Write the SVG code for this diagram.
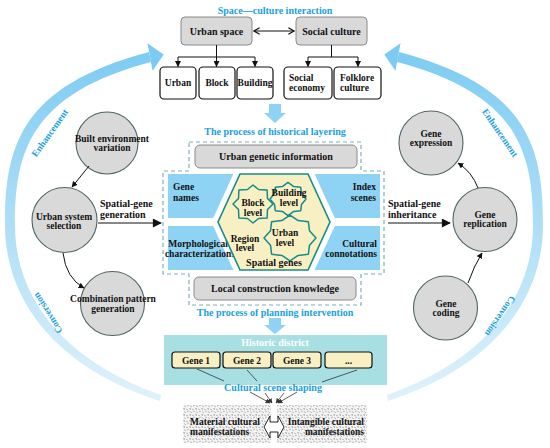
<svg xmlns="http://www.w3.org/2000/svg" width="550" height="448" viewBox="0 0 550 448">
<style>
.t{font-family:'Liberation Serif','Times New Roman',serif;font-weight:bold;font-size:10px;fill:#111}
.s{font-size:9.5px}
.bl{fill:#1aa0e0}
.m{text-anchor:middle}
.e{text-anchor:end}
.circ{fill:#d9d9d9;stroke:#4f6666;stroke-width:1.1}
.wbox{fill:#fff;stroke:#111;stroke-width:1.2}
.gbox{fill:#d9d9d9;stroke:#8a8a8a;stroke-width:1}
.panel{fill:#8fd3f4}
.gene{fill:#f8f0c2;stroke:#111;stroke-width:1.2}
.blob{fill:#f8f0c2;stroke:#158c8c;stroke-width:1.5;stroke-linejoin:round}
.ln{fill:none;stroke:#111;stroke-width:1}
.thin{fill:none;stroke:#333;stroke-width:0.8}
.arc{font-size:9.5px}
</style>
<defs>
<linearGradient id="arcg" gradientUnits="userSpaceOnUse" x1="0" y1="45" x2="0" y2="400">
<stop offset="0" stop-color="#7ccbf2"/><stop offset="1" stop-color="#dff2fb"/>
</linearGradient>
<pattern id="tex" width="6" height="6" patternUnits="userSpaceOnUse">
<rect width="6" height="6" fill="#f4f4f4"/>
<path d="M0,1 l2,1 M3.5,0 l1,2 M1,4 l2,-1 M4,3.5 l2,1.5 M5,0.5 l-1,0.5" stroke="#8c8c8c" stroke-width="0.6" fill="none"/>
</pattern>
<marker id="ah" viewBox="0 0 10 10" refX="9" refY="5" markerWidth="6" markerHeight="6" orient="auto" markerUnits="userSpaceOnUse"><path d="M0,0 L10,5 L0,10 z" fill="#111"/></marker>
<marker id="ahs" viewBox="0 0 10 10" refX="9" refY="5" markerWidth="5" markerHeight="5" orient="auto" markerUnits="userSpaceOnUse"><path d="M0,0 L10,5 L0,10 z" fill="#333"/></marker>
<marker id="ahb" viewBox="0 0 10 10" refX="9" refY="5" markerWidth="10" markerHeight="9" orient="auto" markerUnits="userSpaceOnUse"><path d="M0,0 L10,5 L0,10 z" fill="#111"/></marker>
<marker id="chev" viewBox="0 0 10 10" refX="8" refY="5" markerWidth="8" markerHeight="8" orient="auto-start-reverse" markerUnits="userSpaceOnUse"><path d="M1,1 L8,5 L1,9" fill="none" stroke="#111" stroke-width="1.6"/></marker>
</defs>
<rect width="550" height="448" fill="#fff"/>

<!-- big arcs -->
<g id="arcs">
<path d="M160,401 C57,368 5,301 5,225 C5,147 20,86 149,52 L151,62 C30,94 15,152 15,225 C15,298 64,361 161,395 Z" fill="url(#arcg)"/>
<polygon points="163.7,54.4 152.6,70.7 147.4,43.3" fill="#7ccbf2"/>
<path d="M388,401 C491,368 543,301 543,225 C543,147 528,86 399,52 L397,62 C518,94 533,152 533,225 C533,298 484,361 387,395 Z" fill="url(#arcg)"/>
<polygon points="384.3,54.4 395.4,70.7 400.6,43.3" fill="#7ccbf2"/>
<text class="t bl m arc" transform="translate(50,133) rotate(-54.5)" dy="3">Enhancement</text>
<text class="t bl m arc" transform="translate(500,133) rotate(55.8)" dy="3">Enhancement</text>
<text class="t bl m arc" transform="translate(48,313) rotate(-122)" dy="3">Conversion</text>
<text class="t bl m arc" transform="translate(500,316) rotate(124.4)" dy="3">Conversion</text>
</g>

<!-- top section -->
<text class="t bl m" x="275" y="14">Space—culture interaction</text>
<g id="urban-space"><rect x="181" y="17" width="71" height="28" rx="4" class="gbox" stroke="none"/><text class="t m" x="216.5" y="34.5">Urban space</text></g>
<g id="social-culture"><rect x="296" y="17" width="71" height="28" rx="4" class="gbox" stroke="none"/><text class="t m" x="331.5" y="34.5">Social culture</text></g>
<g id="urban"><rect x="160" y="67" width="36" height="32" rx="4" class="wbox"/><text class="t s m" x="178" y="86">Urban</text></g>
<g id="block"><rect x="199" y="67" width="36" height="32" rx="4" class="wbox"/><text class="t s m" x="217" y="86">Block</text></g>
<g id="building"><rect x="237" y="67" width="36" height="32" rx="4" class="wbox"/><text class="t s m" x="255" y="86">Building</text></g>
<g id="social-economy"><rect x="284" y="67" width="48" height="32" rx="4" class="wbox"/><text class="t s" x="289" y="81">Social</text><text class="t s" x="289" y="91">economy</text></g>
<g id="folklore-culture"><rect x="334" y="67" width="47" height="32" rx="4" class="wbox"/><text class="t s" x="340" y="81">Folklore</text><text class="t s" x="340" y="91">culture</text></g>

<!-- block arrows -->
<path d="M269,104 H281 V113 H286 L275,123 L264,113 H269 Z" fill="#8fd3f4"/>
<path d="M269,318 H281 V325 H286 L275,334 L264,325 H269 Z" fill="#8fd3f4"/>

<text class="t bl m" x="275" y="135">The process of historical layering</text>
<text class="t bl m" x="275" y="316">The process of planning intervention</text>

<!-- spatial gene core -->
<g id="core">
<path d="M189,142 H361 V171 H384 V274 H361 V305 H189 V274 H163 V171 H189 Z" fill="none" stroke="#7fb0bd" stroke-width="1.2" stroke-dasharray="4,3"/>
<rect x="195" y="145" width="162" height="23" rx="5" class="gbox"/>
<text class="t m" x="276" y="160">Urban genetic information</text>
<rect x="194" y="277" width="162" height="23" rx="5" class="gbox"/>
<text class="t m" x="275" y="292">Local construction knowledge</text>
<polygon class="panel" points="168,174 233.4,174 213.2,218 168,218"/>
<polygon class="panel" points="168,226 213.2,226 233.4,270 168,270"/>
<polygon class="panel" points="380,174 314.6,174 334.8,218 380,218"/>
<polygon class="panel" points="380,226 334.8,226 314.6,270 380,270"/>
<text class="t s" x="173" y="190">Gene</text><text class="t s" x="173" y="201">names</text>
<text class="t s e" x="376" y="190">Index</text><text class="t s e" x="376" y="201">scenes</text>
<text class="t s m" x="198" y="247">Morphological</text><text class="t s m" x="200" y="257">characterizations</text>
<text class="t s e" x="377" y="247">Cultural</text><text class="t s e" x="377" y="257">connotations</text>
<polygon points="240,174 308,174 330,222 308,270 240,270 218,222" fill="#f8f0c2" stroke="#158c8c" stroke-width="1.6"/>
<polygon class="blob" points="273,204 267.5,209.5 267.1,218.1 258.5,218.5 253,223 247.5,218.5 238.9,218.1 238.5,209.5 233,204 238.5,198.5 238.9,189.9 247.5,189.5 253,185 258.5,189.5 267.1,189.9 267.5,198.5"/>
<polygon class="blob" points="306,199 301.5,204.4 300.7,210.7 293.7,211.4 288,215.6 282.3,211.4 275.3,210.7 274.5,204.4 270,199 274.5,193.6 275.3,187.3 282.3,186.6 288,182.4 293.7,186.6 300.7,187.3 301.5,193.6"/>
<polygon class="blob" points="316,238 309.5,245.2 308.4,254.2 298.1,255.4 290,260.9 281.9,255.4 271.6,254.2 270.5,245.2 264,238 270.5,230.8 271.6,221.8 281.9,220.6 290,215.1 298.1,220.6 308.4,221.8 309.5,230.8"/>
<text class="t s m" x="253" y="206">Block</text><text class="t s m" x="253" y="216">level</text>
<text class="t s m" x="289" y="196">Building</text><text class="t s m" x="289" y="206">level</text>
<text class="t s m" x="285" y="236">Urban</text><text class="t s m" x="285" y="246">level</text>
<text class="t s m" x="245" y="242">Region</text><text class="t s m" x="245" y="251">level</text>
<text class="t m" x="274" y="266">Spatial genes</text>
</g>

<!-- left circles -->
<g id="built-env"><circle cx="107" cy="143" r="31" class="circ"/><text class="t s m" x="112" y="142">Built environment</text><text class="t s m" x="112" y="151">variation</text></g>
<g id="urban-system"><circle cx="64.5" cy="220" r="32.5" class="circ"/><text class="t s m" x="64" y="220">Urban system</text><text class="t s m" x="64" y="229">selection</text></g>
<g id="combination"><circle cx="112.5" cy="303.5" r="32" class="circ"/><text class="t s m" x="113" y="302">Combination pattern</text><text class="t s m" x="113" y="312">generation</text></g>

<!-- right circles -->
<g id="gene-expression"><circle cx="431" cy="143" r="32" class="circ"/><text class="t s m" x="431" y="137">Gene</text><text class="t s m" x="431" y="146">expression</text></g>
<g id="gene-replication"><circle cx="485" cy="219.5" r="32" class="circ"/><text class="t s m" x="485" y="218">Gene</text><text class="t s m" x="485" y="227">replication</text></g>
<g id="gene-coding"><circle cx="445.5" cy="308" r="32" class="circ"/><text class="t s m" x="446" y="307">Gene</text><text class="t s m" x="446" y="316">coding</text></g>

<text class="t" x="100" y="207">Spatial-gene</text><text class="t" x="100" y="218">generation</text>
<text class="t" x="388" y="207">Spatial-gene</text><text class="t" x="388" y="218">inheritance</text>

<!-- historic district -->
<g id="historic-district">
<rect x="164" y="335" width="223" height="50" fill="#a8dfe2"/>
<text class="t m" x="275" y="346" style="fill:#fff">Historic district</text>
</g>
<g id="gene1"><rect x="172" y="352" width="48" height="16" rx="3" class="gene"/><text class="t s m" x="196" y="363.5">Gene 1</text></g>
<g id="gene2"><rect x="223" y="352" width="48" height="16" rx="3" class="gene"/><text class="t s m" x="247" y="363.5">Gene 2</text></g>
<g id="gene3"><rect x="273" y="352" width="48" height="16" rx="3" class="gene"/><text class="t s m" x="297" y="363.5">Gene 3</text></g>
<g id="gene-more"><rect x="325" y="352" width="47" height="16" rx="3" class="gene"/><text class="t s m" x="348.5" y="363.5">...</text></g>
<text class="t bl m" x="273" y="391">Cultural scene shaping</text>

<!-- bottom manifestations -->
<g id="material"><rect x="183" y="405" width="88" height="38" fill="url(#tex)"/><text class="t s" x="190" y="425">Material cultural</text><text class="t s" x="190" y="435">manifestations</text></g>
<g id="intangible"><rect x="277" y="405" width="90" height="38" fill="url(#tex)"/><text class="t s e" x="364" y="425">Intangible cultural</text><text class="t s e" x="364" y="435">manifestations</text></g>

<!-- connectors -->
<g id="connectors">
<path class="ln" d="M254,31 H294" marker-start="url(#chev)" marker-end="url(#chev)" stroke-width="1.4"/>
<path class="ln" d="M216.5,45 V57 M178,57 H255 M331.5,45 V57 M308,57 H358"/>
<path class="ln" d="M178,57 V66.5" marker-end="url(#ah)"/>
<path class="ln" d="M216.5,57 V66.5" marker-end="url(#ah)"/>
<path class="ln" d="M255,57 V66.5" marker-end="url(#ah)"/>
<path class="ln" d="M308,57 V66.5" marker-end="url(#ah)"/>
<path class="ln" d="M358,57 V66.5" marker-end="url(#ah)"/>
<path class="ln" d="M89,166 L72,187" stroke-width="1.4" marker-end="url(#ah)"/>
<path class="ln" d="M63,253 Q66,278 84,288" stroke-width="1.4" marker-end="url(#ah)"/>
<path class="ln" d="M468,283 Q474,266 482,253" stroke-width="1.4" marker-end="url(#ah)"/>
<path class="ln" d="M478,188 Q472,172 458,163" stroke-width="1.4" marker-end="url(#ah)"/>
<path class="ln" d="M98,223 H161" stroke-width="2.6" marker-end="url(#ahb)"/>
<path class="ln" d="M388,223 H450" stroke-width="2.6" marker-end="url(#ahb)"/>
<path class="thin" d="M197,369 L224,381 M247,370 L257,381 M322,382 L357,370"/>
<path class="thin" d="M250,392 L270,403" marker-end="url(#ahs)"/>
<path class="thin" d="M265,393 L272,403" marker-end="url(#ahs)"/>
<path class="thin" d="M284,393 L276,403" marker-end="url(#ahs)"/>
<path class="thin" d="M297,392 L278,403" marker-end="url(#ahs)"/>
<path d="M270,416 L264,427 L270,438 L270,432 L278,432 L278,438 L284,427 L278,416 L278,422 L270,422 Z" fill="#fff" stroke="#111" stroke-width="0.9"/>
</g>
</svg>
